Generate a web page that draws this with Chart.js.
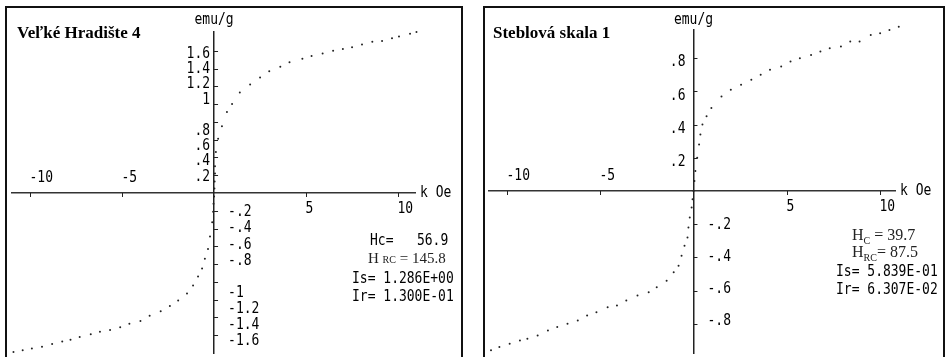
<!DOCTYPE html>
<html>
<head>
<meta charset="utf-8">
<script src="https://cdn.jsdelivr.net/npm/chart.js@4.4.1/dist/chart.umd.min.js"></script>
<style>
  body { margin: 0; width: 945px; height: 357px; background: #fff; position: relative; overflow: hidden; }
  .frame { position: absolute; top: 6px; height: 400px; border: 2px solid #111; }
  canvas { position: absolute; }
  .t { position: absolute; white-space: pre; color: #000; }
  .title { font: bold 17px "Liberation Serif", serif; }
  .mono { font: 13px "DejaVu Sans Mono", monospace; transform: scaleY(1.25); transform-origin: left center; }
  .serif { font: 15px "Liberation Serif", serif; color: #222; }
  .serif small { font-size: 10px; }
</style>
</head>
<body>
<div class="frame" style="left:5px;width:454px"></div>
<div class="frame" style="left:483px;width:458px"></div>

<canvas id="chartVH" width="454" height="349" style="left:7px;top:8px"></canvas>
<canvas id="chartSS" width="456" height="349" style="left:485px;top:8px"></canvas>

<div class="t title" style="left:17px;top:23px">Veľké Hradište 4</div>
<div class="t title" style="left:493px;top:23px">Steblová skala 1</div>

<div class="t mono" style="left:370px;top:232px">Hc=   56.9</div>
<div class="t serif" style="left:368px;top:250px">H <small>RC</small> = 145.8</div>
<div class="t mono" style="left:352px;top:270px">Is= 1.286E+00</div>
<div class="t mono" style="left:352px;top:288px">Ir= 1.300E-01</div>

<div class="t serif" style="left:852px;top:226px;font-size:16px">H<sub style="font-size:10px">C</sub> = 39.7</div>
<div class="t serif" style="left:852px;top:243px;font-size:16px">H<sub style="font-size:10px">RC</sub>= 87.5</div>
<div class="t mono" style="left:836px;top:263px">Is= 5.839E-01</div>
<div class="t mono" style="left:836px;top:281px">Ir= 6.307E-02</div>

<script>
// VEĽKÉ HRADIŠTE 4  (k Oe, emu/g)
const fieldVH = [-10.9, -10.4, -9.9, -9.35, -8.8, -8.25, -7.8, -7.3, -6.7, -6.2, -5.65, -5.1, -4.6, -4.0, -3.5, -2.9, -2.4, -1.95, -1.47, -1.14, -0.87, -0.65, -0.5, -0.33, -0.22, -0.1, -0.05, -0.03, 0, 0.02, 0.03, 0.05, 0.05, 0.1, 0.22, 0.43, 0.7, 0.98, 1.4, 1.96, 2.5, 3.0, 3.6, 4.1, 4.8, 5.3, 5.9, 6.47, 7.0, 7.5, 8.04, 8.6, 9.13, 9.67, 10.05, 10.65, 11.0];
const momentVH = [-1.79, -1.77, -1.75, -1.73, -1.70, -1.67, -1.65, -1.62, -1.59, -1.56, -1.54, -1.51, -1.47, -1.44, -1.38, -1.33, -1.27, -1.21, -1.13, -1.04, -0.94, -0.85, -0.74, -0.63, -0.49, -0.33, -0.21, -0.12, -0.04, 0.05, 0.13, 0.22, 0.30, 0.46, 0.61, 0.75, 0.91, 1.0, 1.13, 1.22, 1.30, 1.37, 1.42, 1.47, 1.51, 1.54, 1.57, 1.60, 1.62, 1.64, 1.67, 1.70, 1.71, 1.74, 1.76, 1.79, 1.81];

// STEBLOVÁ SKALA 1
const fieldSS = [-10.85, -10.4, -9.85, -9.3, -8.9, -8.35, -7.8, -7.3, -6.75, -6.2, -5.7, -5.2, -4.6, -4.1, -3.6, -3.0, -2.4, -1.97, -1.44, -1.06, -0.8, -0.64, -0.48, -0.32, -0.27, -0.2, -0.1, -0.05, 0, 0.05, 0.1, 0.2, 0.3, 0.37, 0.48, 0.7, 0.96, 1.5, 2.0, 2.55, 3.1, 3.6, 4.1, 4.7, 5.2, 5.7, 6.3, 6.8, 7.3, 7.9, 8.4, 8.9, 9.5, 10.0, 10.5, 11.0];
const momentSS = [-0.96, -0.94, -0.92, -0.90, -0.89, -0.87, -0.84, -0.82, -0.80, -0.78, -0.75, -0.73, -0.70, -0.69, -0.66, -0.63, -0.61, -0.58, -0.54, -0.49, -0.45, -0.39, -0.33, -0.28, -0.22, -0.16, -0.10, -0.05, 0, 0.06, 0.12, 0.20, 0.28, 0.34, 0.40, 0.45, 0.50, 0.57, 0.61, 0.64, 0.67, 0.70, 0.73, 0.75, 0.78, 0.80, 0.82, 0.84, 0.86, 0.87, 0.90, 0.90, 0.94, 0.95, 0.97, 0.99];

// tick labels
const xTicks = [-10, -5, 5, 10];
const xTickLabels = ['-10', '-5', '5', '10'];
const yTicksVH = [1.6, 1.4, 1.2, 1, 0.8, 0.6, 0.4, 0.2, -0.2, -0.4, -0.6, -0.8, -1, -1.2, -1.4, -1.6];
const yTickLabelsVH = ['1.6', '1.4', '1.2', '1', '.8', '.6', '.4', '.2', '-.2', '-.4', '-.6', '-.8', '-1', '-1.2', '-1.4', '-1.6'];
const yTicksSS = [0.8, 0.6, 0.4, 0.2, -0.2, -0.4, -0.6, -0.8];
const yTickLabelsSS = ['.8', '.6', '.4', '.2', '-.2', '-.4', '-.6', '-.8'];

// tall narrow screen font
function mono(ctx, s, x, y, align) {
  ctx.save();
  ctx.translate(x, y);
  ctx.scale(1, 1.25);
  ctx.textAlign = align;
  ctx.textBaseline = 'middle';
  ctx.fillText(s, 0, 0);
  ctx.restore();
}

// ticks + labels on the crossed axes
// y labels sit on text rows (old screen output), so they snap to a row grid
function axisText(yTicks, yLabels, g) {
  return {
    id: 'axisText',
    afterDraw(chart) {
      const {ctx, chartArea, scales: {x, y}} = chart;
      const x0 = x.getPixelForValue(0);
      const y0 = y.getPixelForValue(0);
      ctx.save();
      ctx.strokeStyle = '#222';
      ctx.fillStyle = '#000';
      ctx.lineWidth = 1;
      ctx.font = '13px "DejaVu Sans Mono"';
      xTicks.forEach((v, i) => {
        const px = Math.round(x.getPixelForValue(v)) + 0.5;
        ctx.beginPath(); ctx.moveTo(px, y0); ctx.lineTo(px, y0 + 4); ctx.stroke();
        mono(ctx, xTickLabels[i], px - 1, v < 0 ? y0 - 15 : y0 + 16, 'left');
      });
      yTicks.forEach((v, i) => {
        const ty = y.getPixelForValue(v);
        const py = Math.round(ty) + 0.5;
        ctx.beginPath(); ctx.moveTo(x0, py); ctx.lineTo(x0 + 4, py); ctx.stroke();
        const row = Math.round(Math.abs(ty - y0) / 16.1);
        if (v > 0) mono(ctx, yLabels[i], x0 - g.gap, y0 - row * g.pitchPos + g.offPos, 'right');
        else mono(ctx, yLabels[i], x0 + 14, y0 + row * g.pitchNeg + g.offNeg, 'left');
      });
      mono(ctx, 'k Oe', chartArea.right + 5, y0, 'left');
      mono(ctx, 'emu/g', x0, 12, 'center');
      ctx.restore();
    }
  };
}

function makeChart(id, field, moment, xMin, xMax, yMin, yMax, pad, plugin) {
  return new Chart(document.getElementById(id), {
    type: 'scatter',
    data: {
      datasets: [{
        data: field.map((f, i) => ({x: f, y: moment[i]})),
        pointRadius: 1,
        pointBorderWidth: 0,
        pointBackgroundColor: '#222',
        clip: false
      }]
    },
    options: {
      responsive: false,
      animation: false,
      layout: {padding: pad},
      plugins: {legend: {display: false}, tooltip: {enabled: false}},
      scales: {
        x: {
          type: 'linear', min: xMin, max: xMax, position: {y: 0},
          grid: {display: false},
          border: {color: '#333', width: 1.5},
          ticks: {display: false}
        },
        y: {
          type: 'linear', min: yMin, max: yMax, position: {x: 0},
          grid: {display: false},
          border: {color: '#222', width: 1.5},
          ticks: {display: false}
        }
      }
    },
    plugins: [plugin]
  });
}

makeChart('chartVH', fieldVH, momentVH, -10.98, 10.92, -1.8, 1.811,
  {left: 5, right: 46, top: 24, bottom: 0},
  axisText(yTicksVH, yTickLabelsVH, {gap: 4, pitchPos: 15.4, offPos: -1, pitchNeg: 16.1, offNeg: 3}));

makeChart('chartSS', fieldSS, momentSS, -10.957, 10.798, -0.976, 0.970,
  {left: 3, right: 46, top: 22, bottom: 0},
  axisText(yTicksSS, yTickLabelsSS, {gap: 8, pitchPos: 16.6, offPos: 4, pitchNeg: 16, offNeg: 2}));
</script>
</body>
</html>
